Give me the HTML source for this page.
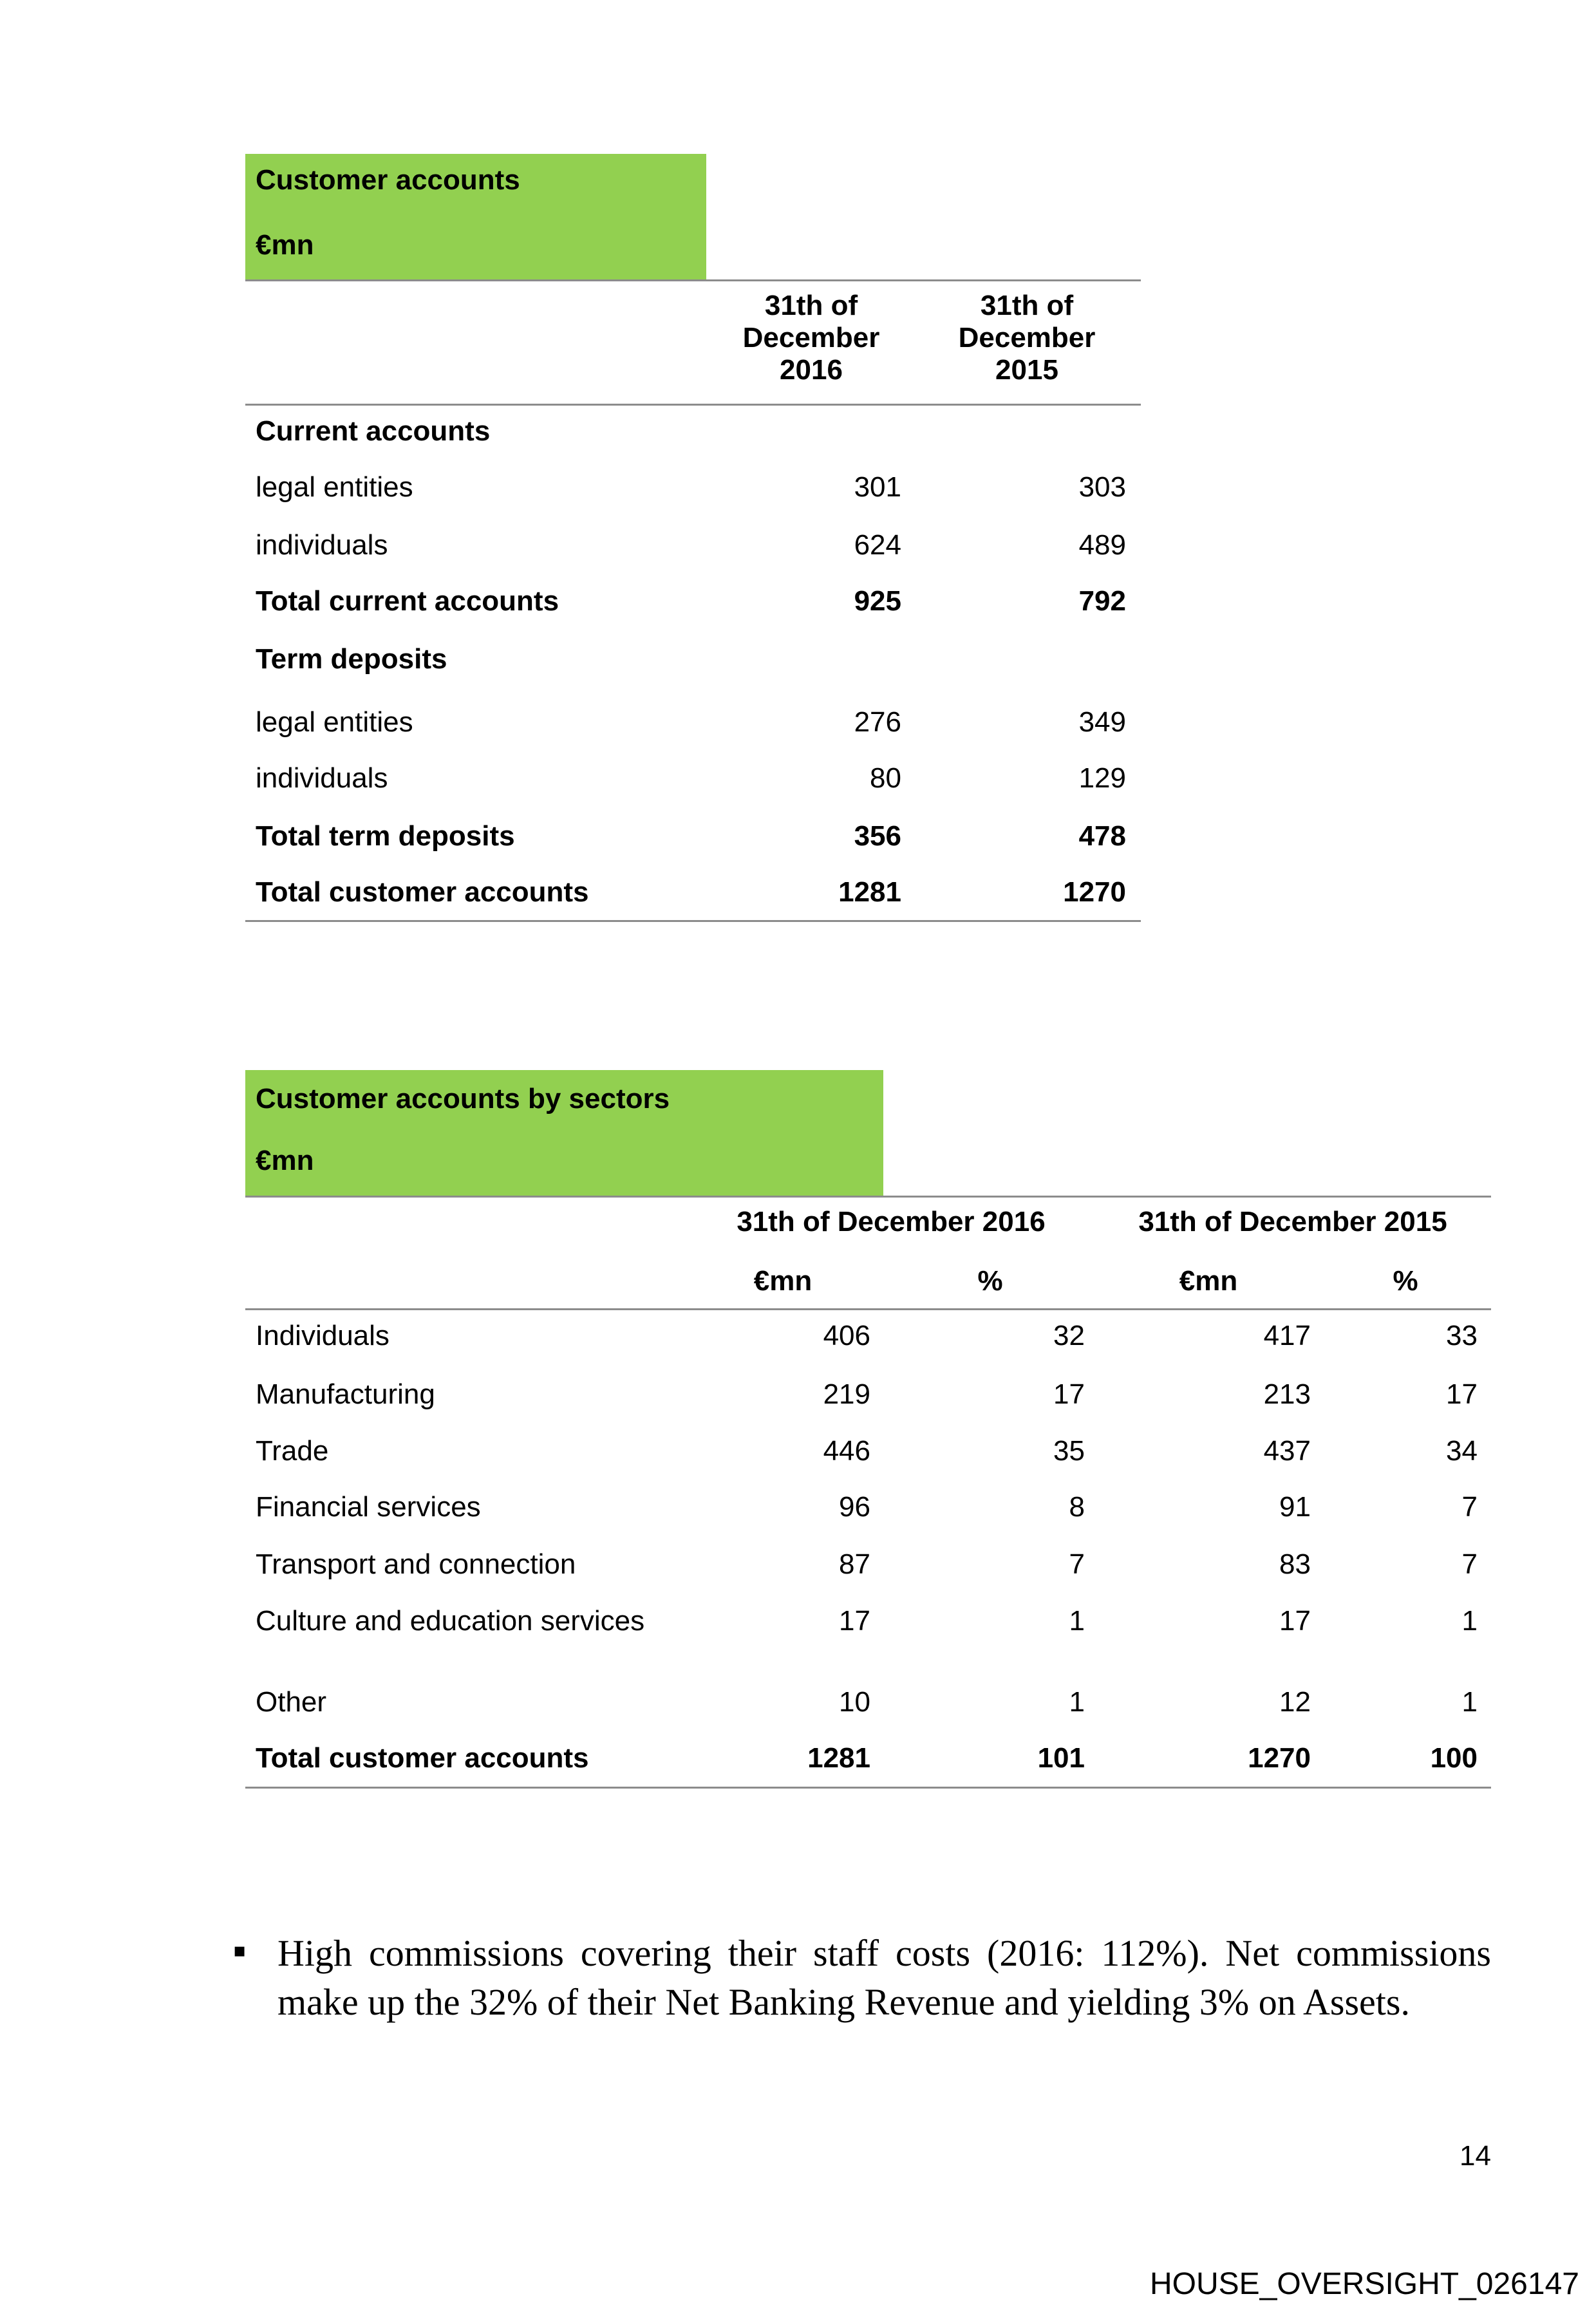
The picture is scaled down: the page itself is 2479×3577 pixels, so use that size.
<!DOCTYPE html>
<html><head><meta charset="utf-8">
<style>
body{margin:0;background:#fff;}
#page{position:relative;width:2479px;height:3577px;overflow:hidden;background:#fff;font-family:"Liberation Sans",sans-serif;font-size:44px;color:#000;}
.t{position:absolute;white-space:nowrap;line-height:54px;height:54px;}
.b{font-weight:bold;}
.r{text-align:right;}
.c{text-align:center;transform:translateX(-50%);}
.g{position:absolute;background:#92d050;}
.ln{position:absolute;height:3px;background:#8c8c8c;}
</style></head><body>
<div id="page">

<div class="g" style="left:381px;top:239px;width:716px;height:195px"></div>
<div class="t b" style="left:397px;top:253px">Customer accounts</div>
<div class="t b" style="left:397px;top:354px">€mn</div>
<div class="ln" style="left:381px;top:434px;width:1391px"></div>
<div class="t b c" style="left:1260px;top:450px;height:auto;line-height:50px">31th of<br>December<br>2016</div>
<div class="t b c" style="left:1595px;top:450px;height:auto;line-height:50px">31th of<br>December<br>2015</div>
<div class="ln" style="left:381px;top:627px;width:1391px"></div>

<div class="t b" style="left:397px;top:643px">Current accounts</div>
<div class="t" style="left:397px;top:730px">legal entities</div>
<div class="t r" style="right:1079px;top:730px">301</div>
<div class="t r" style="right:730px;top:730px">303</div>
<div class="t" style="left:397px;top:820px">individuals</div>
<div class="t r" style="right:1079px;top:820px">624</div>
<div class="t r" style="right:730px;top:820px">489</div>
<div class="t b" style="left:397px;top:907px">Total current accounts</div>
<div class="t b r" style="right:1079px;top:907px">925</div>
<div class="t b r" style="right:730px;top:907px">792</div>
<div class="t b" style="left:397px;top:997px">Term deposits</div>
<div class="t" style="left:397px;top:1095px">legal entities</div>
<div class="t r" style="right:1079px;top:1095px">276</div>
<div class="t r" style="right:730px;top:1095px">349</div>
<div class="t" style="left:397px;top:1182px">individuals</div>
<div class="t r" style="right:1079px;top:1182px">80</div>
<div class="t r" style="right:730px;top:1182px">129</div>
<div class="t b" style="left:397px;top:1272px">Total term deposits</div>
<div class="t b r" style="right:1079px;top:1272px">356</div>
<div class="t b r" style="right:730px;top:1272px">478</div>
<div class="t b" style="left:397px;top:1359px">Total customer accounts</div>
<div class="t b r" style="right:1079px;top:1359px">1281</div>
<div class="t b r" style="right:730px;top:1359px">1270</div>
<div class="ln" style="left:381px;top:1429px;width:1391px"></div>

<div class="g" style="left:381px;top:1662px;width:991px;height:195px"></div>
<div class="t b" style="left:397px;top:1680px">Customer accounts by sectors</div>
<div class="t b" style="left:397px;top:1776px">€mn</div>
<div class="ln" style="left:381px;top:1857px;width:1935px"></div>
<div class="t b c" style="left:1384px;top:1871px">31th of December 2016</div>
<div class="t b c" style="left:2008px;top:1871px">31th of December 2015</div>
<div class="t b c" style="left:1216px;top:1963px">€mn</div>
<div class="t b c" style="left:1538px;top:1963px">%</div>
<div class="t b c" style="left:1877px;top:1963px">€mn</div>
<div class="t b c" style="left:2183px;top:1963px">%</div>
<div class="ln" style="left:381px;top:2032px;width:1935px"></div>

<div id="rows2"></div>
<div class="ln" style="left:381px;top:2775px;width:1935px"></div>

<div class="t" style="left:362px;top:3000px;font-family:'DejaVu Sans',sans-serif;font-size:30px;line-height:60px;height:60px">▪</div>
<div style="position:absolute;left:431px;top:2996px;width:1885px;font-family:'Liberation Serif',serif;font-size:58px;line-height:76px;text-align:justify;text-align-last:left">High commissions covering their staff costs (2016: 112%). Net commissions make up the 32% of their Net Banking Revenue and yielding 3% on Assets.</div>

<div class="t r" style="right:163px;top:3322px">14</div>
<div class="t" style="left:1786px;top:3520px;font-size:48px;line-height:56px;height:56px">HOUSE_OVERSIGHT_026147</div>
</div>
<script>
const sectors=["Individuals","Manufacturing","Trade","Financial services","Transport and connection","Culture and education services","Other","Total customer accounts"];
const mn2016=["406","219","446","96","87","17","10","1281"];
const pct2016=["32","17","35","8","7","1","1","101"];
const mn2015=["417","213","437","91","83","17","12","1270"];
const pct2015=["33","17","34","7","7","1","1","100"];
const rowTops=[2048,2139,2227,2314,2403,2491,2617,2704];
const rightEdges=[1352,1685,2036,2295];
const host=document.getElementById('rows2');
function cell(txt,top,opts){const d=document.createElement('div');d.className='t'+(opts.bold?' b':'')+(opts.right?' r':'');d.style.top=top+'px';if(opts.right){d.style.right=(2479-opts.x)+'px';}else{d.style.left=opts.x+'px';}d.textContent=txt;host.appendChild(d);return d;}
sectors.forEach((s,i)=>{
  const bold=i===sectors.length-1;
  const top=rowTops[i];
  const l=cell(s,top,{x:397,bold});
  
  
  const vals=[mn2016[i],pct2016[i],mn2015[i],pct2015[i]];
  vals.forEach((v,j)=>{
    const c=cell(v,top,{x:rightEdges[j],right:true,bold});
    
    
  });
});
</script>
</body></html>
